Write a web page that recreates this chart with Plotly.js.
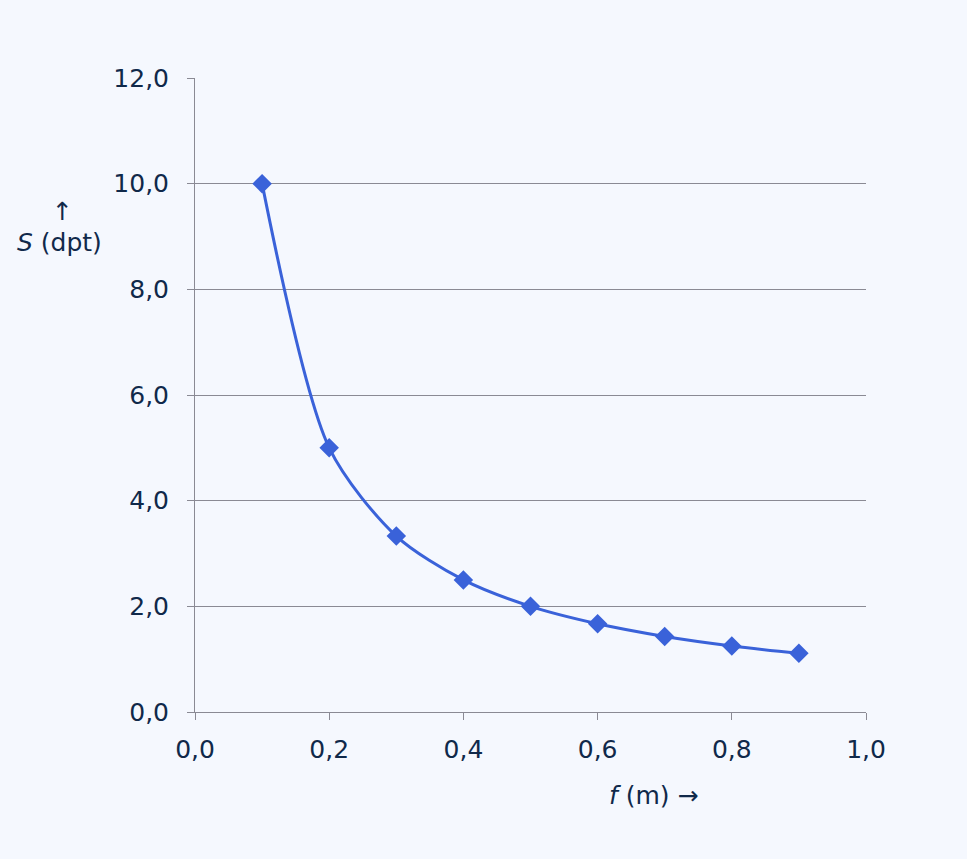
<!DOCTYPE html>
<html><head><meta charset="utf-8">
<script src="https://cdn.plot.ly/plotly-3.0.1.min.js"></script>
<style>html,body{margin:0;padding:0;background:#F5F8FE;}</style>
</head><body>
<div id="chart" style="width:967px;height:859px;"></div>
<script>
const focalLength = [0.1, 0.2, 0.3, 0.4, 0.5, 0.6, 0.7, 0.8, 0.9];
const strength = [10.0, 5.0, 3.33, 2.5, 2.0, 1.67, 1.43, 1.25, 1.11];
const xTicks = [0, 0.2, 0.4, 0.6, 0.8, 1.0];
const yTicks = [0, 2, 4, 6, 8, 10, 12];

const textColor = '#10294A';
const font = {family: 'DejaVu Sans, Verdana, sans-serif', size: 25, color: textColor};

Plotly.newPlot('chart', [{
  x: focalLength, y: strength, type: 'scatter', mode: 'lines+markers',
  line: {color: '#3A62D9', width: 3, shape: 'spline', smoothing: 0.8},
  marker: {symbol: 'diamond', size: 15, color: '#3A62D9'}
}], {
  width: 967, height: 859,
  paper_bgcolor: '#F5F8FE', plot_bgcolor: '#F5F8FE',
  margin: {l: 195, r: 101, t: 78, b: 147},
  separators: ',.',
  font: font,
  showlegend: false,
  xaxis: {range: [0, 1.0], tickvals: xTicks, tickformat: '.1f', showgrid: false, zeroline: false,
    showline: true, linecolor: '#8A8A94', linewidth: 1, ticks: 'outside', ticklen: 7, tickcolor: '#8A8A94',
    ticklabelstandoff: 8, tickfont: font},
  yaxis: {range: [0, 12], tickvals: yTicks, tickformat: '.1f', showgrid: true, gridcolor: '#8A8A94', gridwidth: 1,
    zeroline: false, showline: true, linecolor: '#8A8A94', linewidth: 1, ticks: 'outside', ticklen: 7, tickcolor: '#8A8A94',
    ticklabelstandoff: 13, tickfont: font},
  annotations: [
    {text: '↑', xref: 'paper', yref: 'paper', x: -0.198, y: 0.789, xanchor: 'center', yanchor: 'middle', showarrow: false, font: font},
    {text: '<i>S</i> (dpt)', xref: 'paper', yref: 'paper', x: -0.268, y: 0.741, xanchor: 'left', yanchor: 'middle', showarrow: false, font: font},
    {text: '<i>f</i> (m) →', xref: 'paper', yref: 'paper', x: 0.614, y: -0.131, xanchor: 'left', yanchor: 'middle', showarrow: false, font: font}
  ]
}, {displayModeBar: false});
</script>
</body></html>
